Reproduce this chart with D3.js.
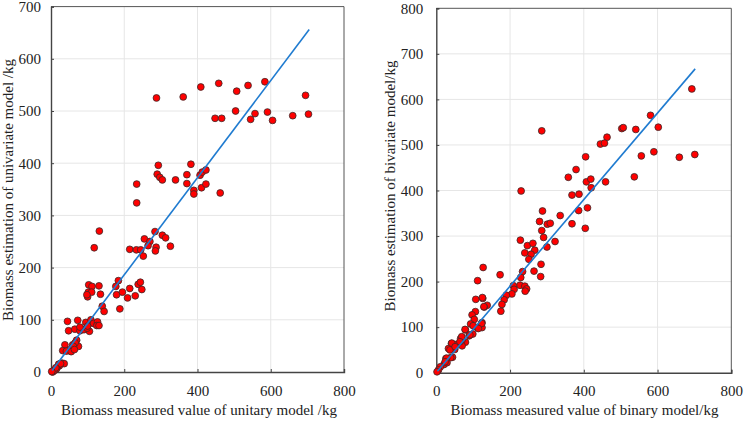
<!DOCTYPE html>
<html><head><meta charset="utf-8">
<script src="https://cdn.jsdelivr.net/npm/d3@7"></script>
<style>body{margin:0;background:#fff}svg{display:block}text{font-family:"Liberation Serif","Times New Roman",serif;fill:#222}</style>
</head><body><svg id="c" width="744" height="421"></svg>
<script>
// ---- Data ----
const xTicks = [0, 200, 400, 600, 800];
const yTicksLeft = [0, 100, 200, 300, 400, 500, 600, 700];
const yTicksRight = [0, 100, 200, 300, 400, 500, 600, 700, 800];

const leftX = [288,361,409,458,507,538,584,695,448,466,504,545,557,591,605,660,703,
  293,290,297,304,340,382,371,371,390,390,407,413,423,411,423,462,234,234,
  132,118,284,255,270,265,304,313,326,215,233,245,287,285,252,
  103,112,131,102,100,111,135,140,145,184,177,179,188,195,209,215,230,238,244,248,98,
  45,73,48,65,79,90,95,109,116,127,105,125,131,79,99,100,
  38,70,75,59,52,32,42,55,66,61,64,
  30,36,23,17,11,6,4,15,21,8,26,13,2];
const leftY = [525,527,546,553,538,549,556,530,486,486,500,484,495,498,482,491,494,
  396,379,373,368,368,398,378,361,348,341,377,383,387,353,360,343,360,324,
  270,238,269,255,250,242,262,257,241,235,234,234,239,232,222,
  167,164,165,153,144,153,149,126,116,175,164,148,121,153,142,160,146,168,172,158,148,
  97,99,79,82,79,81,95,100,93,96,78,89,89,86,84,88,
  52,61,49,52,43,41,40,39,56,49,43,
  17,16,12,9,4,1,0,6,15,3,16,8,1];

const rightX = [693,581,503,507,541,602,463,445,456,556,590,659,701,537,405,379,358,407,419,420,459,368,387,386,410,404,368,336,
  286,230,288,280,301,309,286,291,300,322,228,247,262,267,240,257,251,284,265,234,229,283,227,240,245,241,209,211,205,190,184,178,175,173,
  127,112,126,138,130,107,106,97,103,124,124,111,93,79,99,89,79,70,66,70,54,41,50,33,44,39,26,21,29,11,6,2,
  69,78,42,37,51,64,91,100,123,114,28,24,125,129];
const rightY = [623,565,536,538,534,539,517,502,504,476,485,473,479,430,474,446,429,419,425,406,419,390,392,356,362,317,327,345,
  531,399,355,332,326,328,312,297,276,288,291,279,284,269,263,260,249,238,223,222,209,211,192,190,184,179,191,183,173,170,160,150,135,215,
  231,202,163,148,144,161,134,127,117,110,99,99,107,94,85,81,67,72,75,59,62,64,51,53,34,33,31,18,22,13,6,2,
  79,95,65,50,57,68,83,103,108,97,32,24,165,145];

const fitLeftX = [3, 705], fitLeftY = [3, 656];
const fitRightX = [3, 702], fitRightY = [3, 667];

const svg = d3.select("#c");

function panel(o) {
  const x = d3.scaleLinear().domain([0, 800]).range([o.l, o.r]);
  const y = d3.scaleLinear().domain([0, o.yMax]).range([o.b, o.t]);
  const g = svg.append("g");
  // grid
  g.selectAll(".gx").data(xTicks.slice(1, -1)).join("line")
    .attr("x1", d => x(d)).attr("x2", d => x(d)).attr("y1", o.t).attr("y2", o.b)
    .attr("stroke", "#e6e6e6").attr("stroke-width", 1);
  g.selectAll(".gy").data(o.yTicks.slice(1, -1)).join("line")
    .attr("y1", d => y(d)).attr("y2", d => y(d)).attr("x1", o.l).attr("x2", o.r)
    .attr("stroke", "#e6e6e6").attr("stroke-width", 1);
  // frame (top/right)
  g.append("path").attr("d", `M${o.l},${o.t}H${o.r}V${o.b}`).attr("fill", "none")
    .attr("stroke", "#555").attr("stroke-width", 1);
  // axes
  const ax = g.append("g").attr("transform", `translate(0,${o.b})`)
    .call(d3.axisBottom(x).tickValues(xTicks).tickSize(-3).tickPadding(13));
  const ay = g.append("g").attr("transform", `translate(${o.l},0)`)
    .call(d3.axisLeft(y).tickValues(o.yTicks).tickSize(-3).tickPadding(o.pad));
  [ax, ay].forEach(a => {
    a.select(".domain").attr("stroke", "#444").attr("stroke-width", 1.4);
    a.selectAll(".tick line").attr("stroke", "#444");
    a.selectAll(".tick text").attr("font-size", 15).attr("fill", "#222")
      .style("font-family", '"Liberation Serif", serif');
  });
  // points
  g.selectAll(".pt").data(o.xs.map((v, i) => [v, o.ys[i]])).join("circle")
    .attr("cx", d => x(d[0])).attr("cy", d => y(d[1])).attr("r", 3.4)
    .attr("fill", "#ff0000").attr("stroke", "#3a2a2a").attr("stroke-width", 0.8);
  // fit line
  g.append("line")
    .attr("x1", x(o.fx[0])).attr("y1", y(o.fy[0])).attr("x2", x(o.fx[1])).attr("y2", y(o.fy[1]))
    .attr("stroke", "#1f7bd0").attr("stroke-width", 1.6);
  // titles
  g.append("text").attr("x", o.xtX).attr("y", 415).attr("text-anchor", "middle")
    .attr("font-size", 15).text(o.xTitle);
  g.append("text").attr("transform", `translate(${o.ytX},${o.ytY}) rotate(-90)`)
    .attr("text-anchor", "middle").attr("font-size", 15).text(o.yTitle);
}

panel({l: 51, r: 344, t: 6.6, b: 372, yMax: 700, yTicks: yTicksLeft, pad: 10,
  xs: leftX, ys: leftY, fx: fitLeftX, fy: fitLeftY,
  xTitle: "Biomass measured value of unitary model /kg", xtX: 199,
  yTitle: "Biomass estimation of univariate model /kg", ytX: 13, ytY: 190});
panel({l: 436.3, r: 731.3, t: 8.3, b: 372.7, yMax: 800, yTicks: yTicksRight, pad: 13,
  xs: rightX, ys: rightY, fx: fitRightX, fy: fitRightY,
  xTitle: "Biomass measured value of binary model/kg", xtX: 584.5,
  yTitle: "Biomass estimation of bivariate model/kg", ytX: 395, ytY: 186});
</script></body></html>
